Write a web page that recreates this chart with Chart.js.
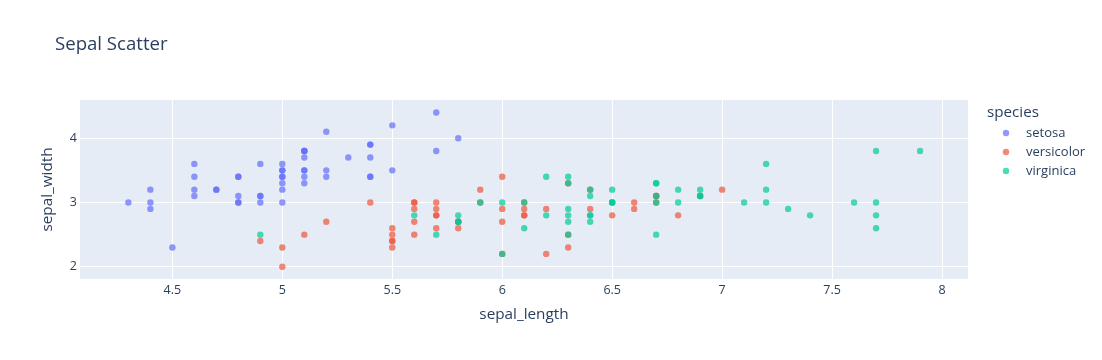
<!DOCTYPE html>
<html>
<head>
<meta charset="utf-8">
<script src="https://cdn.jsdelivr.net/npm/chart.js@4.4.1/dist/chart.umd.min.js"></script>
<style>
html,body{margin:0;padding:0;background:#fff;}
#wrap{width:1102px;height:360px;position:relative;}
</style>
</head>
<body>
<div id="wrap"><canvas id="c"></canvas></div>
<script>
const chartTitle = "Sepal Scatter";
const xTitle = "sepal_length";
const yTitle = "sepal_width";
const legendTitle = "species";
const speciesNames = ["setosa", "versicolor", "virginica"];
const speciesColors = ["rgba(99,110,250,0.7)", "rgba(239,85,59,0.7)", "rgba(0,204,150,0.7)"];
const xTicks = [4.5, 5, 5.5, 6, 6.5, 7, 7.5, 8];
const yTicks = [2, 3, 4];

const setosaLength = [5.1,4.9,4.7,4.6,5.0,5.4,4.6,5.0,4.4,4.9,5.4,4.8,4.8,4.3,5.8,5.7,5.4,5.1,5.7,5.1,5.4,5.1,4.6,5.1,4.8,5.0,5.0,5.2,5.2,4.7,4.8,5.4,5.2,5.5,4.9,5.0,5.5,4.9,4.4,5.1,5.0,4.5,4.4,5.0,5.1,4.8,5.1,4.6,5.3,5.0];
const setosaWidth  = [3.5,3.0,3.2,3.1,3.6,3.9,3.4,3.4,2.9,3.1,3.7,3.4,3.0,3.0,4.0,4.4,3.9,3.5,3.8,3.8,3.4,3.7,3.6,3.3,3.4,3.0,3.4,3.5,3.4,3.2,3.1,3.4,4.1,4.2,3.1,3.2,3.5,3.6,3.0,3.4,3.5,2.3,3.2,3.5,3.8,3.0,3.8,3.2,3.7,3.3];
const versicolorLength = [7.0,6.4,6.9,5.5,6.5,5.7,6.3,4.9,6.6,5.2,5.0,5.9,6.0,6.1,5.6,6.7,5.6,5.8,6.2,5.6,5.9,6.1,6.3,6.1,6.4,6.6,6.8,6.7,6.0,5.7,5.5,5.5,5.8,6.0,5.4,6.0,6.7,6.3,5.6,5.5,5.5,6.1,5.8,5.0,5.6,5.7,5.7,6.2,5.1,5.7];
const versicolorWidth  = [3.2,3.2,3.1,2.3,2.8,2.8,3.3,2.4,2.9,2.7,2.0,3.0,2.2,2.9,2.9,3.1,3.0,2.7,2.2,2.5,3.2,2.8,2.5,2.8,2.9,3.0,2.8,3.0,2.9,2.6,2.4,2.4,2.7,2.7,3.0,3.4,3.1,2.3,3.0,2.5,2.6,3.0,2.6,2.3,2.7,3.0,2.9,2.9,2.5,2.8];
const virginicaLength = [6.3,5.8,7.1,6.3,6.5,7.6,4.9,7.3,6.7,7.2,6.5,6.4,6.8,5.7,5.8,6.4,6.5,7.7,7.7,6.0,6.9,5.6,7.7,6.3,6.7,7.2,6.2,6.1,6.4,7.2,7.4,7.9,6.4,6.3,6.1,7.7,6.3,6.4,6.0,6.9,6.7,6.9,5.8,6.8,6.7,6.7,6.3,6.5,6.2,5.9];
const virginicaWidth  = [3.3,2.7,3.0,2.9,3.0,3.0,2.5,2.9,2.5,3.6,3.2,2.7,3.0,2.5,2.8,3.2,3.0,3.8,2.6,2.2,3.2,2.8,2.8,2.7,3.3,3.2,2.8,3.0,2.8,3.0,2.8,3.8,2.8,2.8,2.6,3.0,3.4,3.1,3.0,3.1,3.1,3.1,2.7,3.2,3.3,3.0,2.5,3.0,3.4,3.0];

const xRange = [4.08, 8.118];
const yRange = [1.81, 4.594];

const lengths = [setosaLength, versicolorLength, virginicaLength];
const widths = [setosaWidth, versicolorWidth, virginicaWidth];

const FONT = '"Open Sans", "Liberation Sans", Arial, sans-serif';
const TXT = '#2a3f5f';

const datasets = speciesNames.map((name, i) => ({
  label: name,
  data: lengths[i].map((x, j) => ({x: x, y: widths[i][j]})),
  backgroundColor: speciesColors[i],
  borderColor: speciesColors[i],
  borderWidth: 0,
  pointRadius: 3.2,
  pointHoverRadius: 3.2,
  order: speciesNames.length - i
}));

const overlay = {
  id: 'overlay',
  beforeDraw(chart) {
    const {ctx, chartArea: a} = chart;
    ctx.save();
    ctx.fillStyle = '#E5ECF6';
    ctx.fillRect(a.left, a.top, a.right - a.left, a.bottom - a.top);
    ctx.restore();
  },
  afterDraw(chart) {
    const ctx = chart.ctx;
    ctx.save();
    ctx.fillStyle = TXT;
    ctx.textBaseline = 'middle';
    ctx.textAlign = 'left';
    ctx.font = '18.6px ' + FONT;
    ctx.fillText(chartTitle, 55, 44.5);
    ctx.font = '15.2px ' + FONT;
    ctx.fillText(legendTitle, 987, 113);
    ctx.font = '13px ' + FONT;
    speciesNames.forEach((n, i) => {
      const y = 133 + i * 19;
      ctx.fillStyle = speciesColors[i];
      ctx.beginPath();
      ctx.arc(1006, y, 3.2, 0, Math.PI * 2);
      ctx.fill();
      ctx.fillStyle = TXT;
      ctx.fillText(n, 1026, y);
    });
    ctx.restore();
  }
};

new Chart(document.getElementById('c'), {
  type: 'scatter',
  data: {datasets},
  plugins: [overlay],
  options: {
    responsive: true,
    maintainAspectRatio: false,
    animation: false,
    layout: {padding: {left: 0, top: 100, right: 134, bottom: 0}},
    plugins: {legend: {display: false}, title: {display: false}, tooltip: {enabled: false}},
    scales: {
      x: {
        type: 'linear',
        min: xRange[0], max: xRange[1],
        afterBuildTicks(s) { s.ticks = xTicks.map(v => ({value: v})); },
        afterFit(s) { s.height = 81; },
        border: {display: false},
        grid: {color: '#ffffff', lineWidth: 1, drawTicks: false},
        ticks: {color: TXT, font: {family: FONT, size: 12.5}, padding: 4, maxRotation: 0,
                callback: v => String(v)},
        title: {display: true, text: xTitle, color: TXT, font: {family: FONT, size: 15.3}, padding: {top: 0, bottom: 36}}
      },
      y: {
        type: 'linear',
        min: yRange[0], max: yRange[1],
        afterBuildTicks(s) { s.ticks = yTicks.map(v => ({value: v})); },
        afterFit(s) { s.width = 80; },
        border: {display: false},
        grid: {color: '#ffffff', lineWidth: 1, drawTicks: false},
        ticks: {color: TXT, font: {family: FONT, size: 12.5}, padding: 3,
                callback: v => String(v)},
        title: {display: true, text: yTitle, color: TXT, font: {family: FONT, size: 15.3}, padding: {top: 38.5, bottom: 0}}
      }
    }
  }
});
</script>
</body>
</html>
